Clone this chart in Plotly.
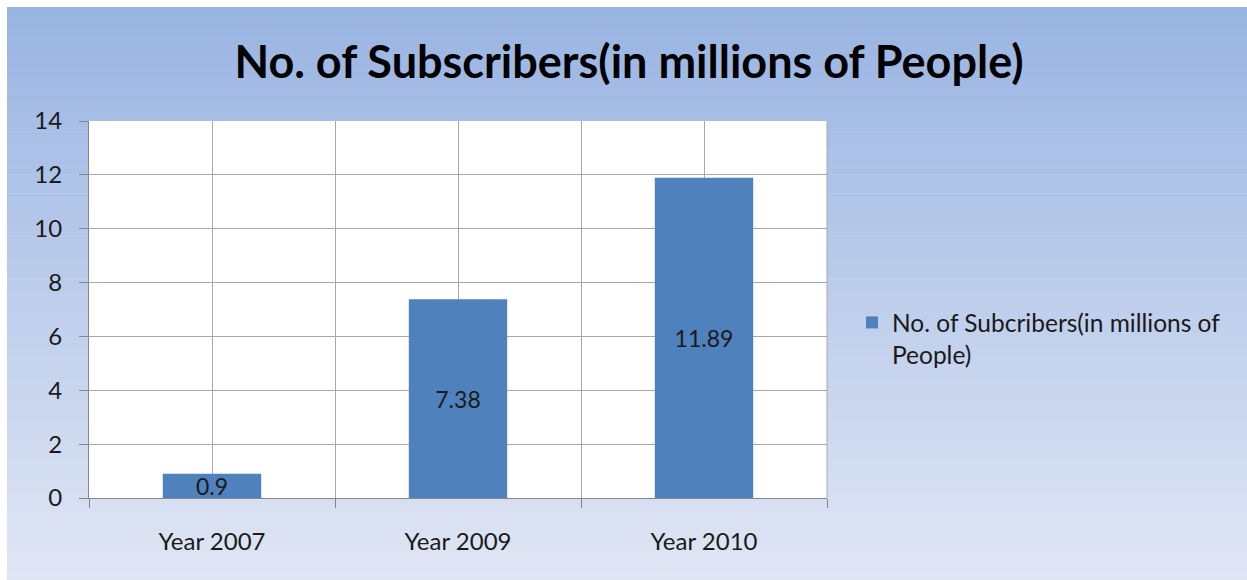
import plotly.graph_objects as go

# ---------------- data ----------------
categories = ["Year 2007", "Year 2009", "Year 2010"]
subscribers = [0.9, 7.38, 11.89]
value_labels = ["0.9", "7.38", "11.89"]
y_tick_values = [0, 2, 4, 6, 8, 10, 12, 14]
series_name = "No. of Subcribers(in millions of<br>People)"
chart_title = "No. of Subscribers(in millions of People)"

# ---------------- layout geometry (pixels) ----------------
W, H = 1247, 580
L, R, T, B = 89, W - 827, 121, H - 498
PW, PH = W - L - R, H - T - B


def px_x(px):
    return (px - L) / PW


def px_y(py):
    return (H - B - py) / PH


FONT = "Lato, 'Open Sans', sans-serif"
GRID = "#A8A8A8"
AXIS = "#868686"
TXT = "#1a1a1a"

x_pos = list(range(len(categories)))

fig = go.Figure()
fig.add_trace(go.Bar(
    x=x_pos,
    y=subscribers,
    width=0.4,
    name=series_name,
    marker=dict(color="#4F81BD", line=dict(width=0)),
    text=value_labels,
    textposition="inside",
    insidetextanchor="middle",
    constraintext="none",
    textfont=dict(family=FONT, size=23, color=TXT),
    showlegend=True,
))

# gradient background (strips)
shapes = []
N = 120
top_c = (153, 180, 226)
bot_c = (224, 230, 244)
y_top, y_bot = 7, 580
for i in range(N):
    f = i / (N - 1)
    c = tuple(round(top_c[k] + (bot_c[k] - top_c[k]) * f) for k in range(3))
    ya = y_top + (y_bot - y_top) * i / N
    yb = y_top + (y_bot - y_top) * (i + 1) / N + 0.6
    shapes.append(dict(
        type="rect", xref="paper", yref="paper", layer="below",
        x0=px_x(7), x1=px_x(W + 2), y0=px_y(yb), y1=px_y(ya),
        fillcolor="rgb(%d,%d,%d)" % c, line=dict(width=0),
    ))
# white plot area
shapes.append(dict(
    type="rect", xref="x domain", yref="y domain", layer="below",
    x0=0, x1=1, y0=0, y1=1, fillcolor="white", line=dict(width=0),
))
# right border of plot area
shapes.append(dict(
    type="line", xref="x domain", yref="y domain", layer="above",
    x0=1, x1=1, y0=0, y1=1, line=dict(color=GRID, width=1),
))

fig.update_layout(
    width=W, height=H,
    margin=dict(l=L, r=R, t=T, b=B, pad=0),
    paper_bgcolor="white",
    plot_bgcolor="white",
    shapes=shapes,
    title=dict(
        text="<b>" + chart_title + "</b>",
        x=629 / W, xanchor="center",
        y=1 - 62 / H, yanchor="middle", yref="container",
        font=dict(family=FONT, size=45, color="#000000"),
    ),
    font=dict(family=FONT, size=24, color=TXT),
    legend=dict(
        x=px_x(852), xanchor="left",
        y=px_y(300), yanchor="top",
        bgcolor="rgba(0,0,0,0)",
        valign="top",
        font=dict(family=FONT, size=24.5, color=TXT),
        itemclick=False,
    ),
    xaxis=dict(
        range=[-0.5, len(categories) - 0.5],
        tickmode="array",
        tickvals=x_pos,
        ticktext=categories,
        ticks="",
        showgrid=True, gridcolor=GRID, gridwidth=1,
        showline=True, linecolor=AXIS, linewidth=1,
        zeroline=False,
        tickfont=dict(family=FONT, size=24, color=TXT),
        ticklabelstandoff=22,
        minor=dict(
            tick0=0.5, dtick=1,
            ticks="outside", ticklen=9, tickcolor=AXIS, tickwidth=1,
            showgrid=True, gridcolor=GRID, gridwidth=1,
        ),
        fixedrange=True,
    ),
    yaxis=dict(
        range=[0, 14],
        tickmode="array",
        tickvals=y_tick_values,
        ticks="outside", ticklen=9, tickcolor=AXIS, tickwidth=1,
        showgrid=True, gridcolor=GRID, gridwidth=1,
        showline=True, linecolor=AXIS, linewidth=1,
        zeroline=False,
        tickfont=dict(family=FONT, size=24, color=TXT),
        ticklabelstandoff=12,
        fixedrange=True,
    ),
)

fig.write_html("out.html", config={"displayModeBar": False})
